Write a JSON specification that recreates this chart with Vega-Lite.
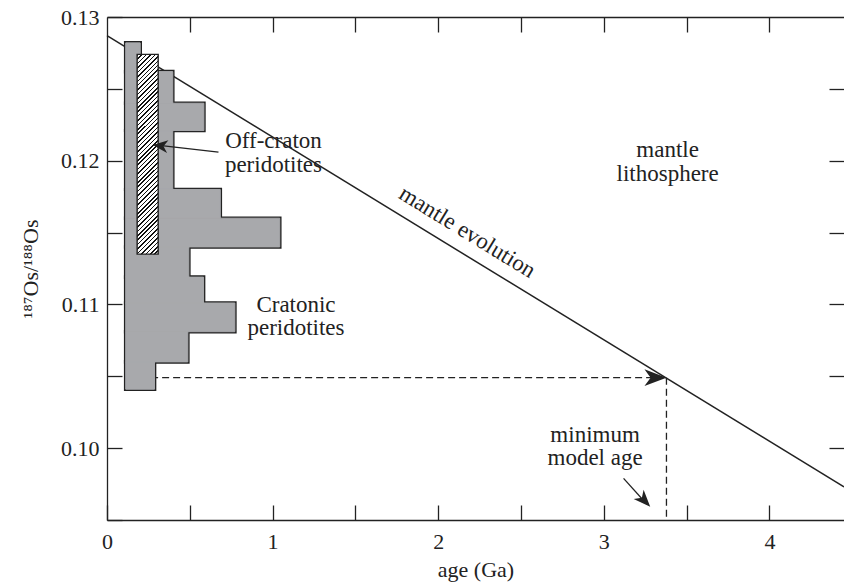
{
  "$schema": "https://vega.github.io/schema/vega-lite/v6.json",
  "width": 737,
  "height": 503,
  "autosize": {"type": "none"},
  "padding": {"left": 107, "top": 17, "right": 0, "bottom": 64},
  "background": "white",
  "config": {
    "view": {"stroke": null},
    "axis": {
      "grid": false,
      "domainColor": "#222",
      "domainWidth": 1.3,
      "tickColor": "#222",
      "tickWidth": 1.3,
      "tickSize": -15,
      "labelFont": "Liberation Serif",
      "labelFontSize": 22,
      "labelColor": "#222",
      "labelOverlap": false,
      "labelFlush": false,
      "titleFont": "Liberation Serif",
      "titleFontSize": 22,
      "titleFontWeight": "normal",
      "titleColor": "#222"
    }
  },
  "resolve": {"axis": {"x": "independent", "y": "independent"}},
  "layer": [
    {
      "data": {"values": [{"age": 0, "ratio": 0.1287}, {"age": 4.45, "ratio": 0.0973}]},
      "mark": {"type": "line", "color": "#222", "strokeWidth": 1.5},
      "encoding": {
        "x": {"field": "age", "type": "quantitative", "scale": {"domain": [0, 4.45], "nice": false, "zero": false},
          "axis": {"orient": "bottom", "title": "age (Ga)", "values": [0, 0.5, 1, 1.5, 2, 2.5, 3, 3.5, 4],
            "labelExpr": "datum.value % 1 == 0 ? format(datum.value, 'd') : ''", "labelPadding": 26, "titlePadding": 7}},
        "y": {"field": "ratio", "type": "quantitative", "scale": {"domain": [0.095, 0.13], "nice": false, "zero": false},
          "axis": {"orient": "left", "title": "¹⁸⁷Os/¹⁸⁸Os", "values": [0.095, 0.1, 0.105, 0.11, 0.115, 0.12, 0.125, 0.13],
            "labelExpr": "abs(datum.value * 100 - round(datum.value * 100)) < 0.01 ? format(datum.value, '.2f') : ''",
            "labelPadding": 23, "titlePadding": 18}}
      }
    },
    {
      "data": {"values": [
        {"a": 0.2, "r": 0.1049, "a2": 3.355, "r2": 0.1049},
        {"a": 3.378, "r": 0.1049, "a2": 3.378, "r2": 0.095}
      ]},
      "mark": {"type": "rule", "color": "#222", "strokeWidth": 1.3, "strokeDash": [7, 4]},
      "encoding": {
        "x": {"field": "a", "type": "quantitative", "scale": {"domain": [0, 4.45]}, "axis": null},
        "x2": {"field": "a2"},
        "y": {"field": "r", "type": "quantitative", "scale": {"domain": [0.095, 0.13]}, "axis": null},
        "y2": {"field": "r2"}
      }
    },
    {
      "data": {"name": "hist", "values": [
        {"a0": 0.113, "a1": 0.2005, "r0": 0.1262, "r1": 0.1282},
        {"a0": 0.113, "a1": 0.397, "r0": 0.1240, "r1": 0.1262},
        {"a0": 0.113, "a1": 0.585, "r0": 0.1221, "r1": 0.1240},
        {"a0": 0.113, "a1": 0.397, "r0": 0.1180, "r1": 0.1221},
        {"a0": 0.113, "a1": 0.684, "r0": 0.1160, "r1": 0.1180},
        {"a0": 0.113, "a1": 1.043, "r0": 0.1140, "r1": 0.1160},
        {"a0": 0.113, "a1": 0.494, "r0": 0.1119, "r1": 0.1140},
        {"a0": 0.113, "a1": 0.583, "r0": 0.1101, "r1": 0.1119},
        {"a0": 0.113, "a1": 0.772, "r0": 0.1081, "r1": 0.1101},
        {"a0": 0.113, "a1": 0.488, "r0": 0.1060, "r1": 0.1081},
        {"a0": 0.113, "a1": 0.287, "r0": 0.1041, "r1": 0.1060}
      ]},
      "layer": [
        {
          "mark": {"type": "rect", "fill": "#a8a9ac", "stroke": "#222", "strokeWidth": 3.6},
          "encoding": {
            "x": {"field": "a0", "type": "quantitative", "scale": {"domain": [0, 4.45]}, "axis": null},
            "x2": {"field": "a1"},
            "y": {"field": "r0", "type": "quantitative", "scale": {"domain": [0.095, 0.13]}, "axis": null},
            "y2": {"field": "r1"}
          }
        },
        {
          "mark": {"type": "rect", "fill": "#a8a9ac", "stroke": "#a8a9ac", "strokeWidth": 1},
          "encoding": {
            "x": {"field": "a0", "type": "quantitative", "scale": {"domain": [0, 4.45]}, "axis": null},
            "x2": {"field": "a1"},
            "y": {"field": "r0", "type": "quantitative", "scale": {"domain": [0.095, 0.13]}, "axis": null},
            "y2": {"field": "r1"}
          }
        }
      ]
    },
    {
      "data": {"values": [{"a0": 0.182, "a1": 0.309, "r0": 0.1135, "r1": 0.1274}]},
      "mark": {"type": "rect", "stroke": "#222", "strokeWidth": 1.4,
        "fill": {"gradient": "linear", "x1": 0, "y1": 0, "x2": 0.1149, "y2": 1.0931, "stops": [
          {"offset": 0, "color": "#111"}, {"offset": 0.007, "color": "#111"}, {"offset": 0.007, "color": "#fff"}, {"offset": 0.02, "color": "#fff"},
          {"offset": 0.02, "color": "#111"}, {"offset": 0.027, "color": "#111"}, {"offset": 0.027, "color": "#fff"}, {"offset": 0.04, "color": "#fff"},
          {"offset": 0.04, "color": "#111"}, {"offset": 0.047, "color": "#111"}, {"offset": 0.047, "color": "#fff"}, {"offset": 0.06, "color": "#fff"},
          {"offset": 0.06, "color": "#111"}, {"offset": 0.067, "color": "#111"}, {"offset": 0.067, "color": "#fff"}, {"offset": 0.08, "color": "#fff"},
          {"offset": 0.08, "color": "#111"}, {"offset": 0.087, "color": "#111"}, {"offset": 0.087, "color": "#fff"}, {"offset": 0.10, "color": "#fff"},
          {"offset": 0.10, "color": "#111"}, {"offset": 0.107, "color": "#111"}, {"offset": 0.107, "color": "#fff"}, {"offset": 0.12, "color": "#fff"},
          {"offset": 0.12, "color": "#111"}, {"offset": 0.127, "color": "#111"}, {"offset": 0.127, "color": "#fff"}, {"offset": 0.14, "color": "#fff"},
          {"offset": 0.14, "color": "#111"}, {"offset": 0.147, "color": "#111"}, {"offset": 0.147, "color": "#fff"}, {"offset": 0.16, "color": "#fff"},
          {"offset": 0.16, "color": "#111"}, {"offset": 0.167, "color": "#111"}, {"offset": 0.167, "color": "#fff"}, {"offset": 0.18, "color": "#fff"},
          {"offset": 0.18, "color": "#111"}, {"offset": 0.187, "color": "#111"}, {"offset": 0.187, "color": "#fff"}, {"offset": 0.20, "color": "#fff"},
          {"offset": 0.20, "color": "#111"}, {"offset": 0.207, "color": "#111"}, {"offset": 0.207, "color": "#fff"}, {"offset": 0.22, "color": "#fff"},
          {"offset": 0.22, "color": "#111"}, {"offset": 0.227, "color": "#111"}, {"offset": 0.227, "color": "#fff"}, {"offset": 0.24, "color": "#fff"},
          {"offset": 0.24, "color": "#111"}, {"offset": 0.247, "color": "#111"}, {"offset": 0.247, "color": "#fff"}, {"offset": 0.26, "color": "#fff"},
          {"offset": 0.26, "color": "#111"}, {"offset": 0.267, "color": "#111"}, {"offset": 0.267, "color": "#fff"}, {"offset": 0.28, "color": "#fff"},
          {"offset": 0.28, "color": "#111"}, {"offset": 0.287, "color": "#111"}, {"offset": 0.287, "color": "#fff"}, {"offset": 0.30, "color": "#fff"},
          {"offset": 0.30, "color": "#111"}, {"offset": 0.307, "color": "#111"}, {"offset": 0.307, "color": "#fff"}, {"offset": 0.32, "color": "#fff"},
          {"offset": 0.32, "color": "#111"}, {"offset": 0.327, "color": "#111"}, {"offset": 0.327, "color": "#fff"}, {"offset": 0.34, "color": "#fff"},
          {"offset": 0.34, "color": "#111"}, {"offset": 0.347, "color": "#111"}, {"offset": 0.347, "color": "#fff"}, {"offset": 0.36, "color": "#fff"},
          {"offset": 0.36, "color": "#111"}, {"offset": 0.367, "color": "#111"}, {"offset": 0.367, "color": "#fff"}, {"offset": 0.38, "color": "#fff"},
          {"offset": 0.38, "color": "#111"}, {"offset": 0.387, "color": "#111"}, {"offset": 0.387, "color": "#fff"}, {"offset": 0.40, "color": "#fff"},
          {"offset": 0.40, "color": "#111"}, {"offset": 0.407, "color": "#111"}, {"offset": 0.407, "color": "#fff"}, {"offset": 0.42, "color": "#fff"},
          {"offset": 0.42, "color": "#111"}, {"offset": 0.427, "color": "#111"}, {"offset": 0.427, "color": "#fff"}, {"offset": 0.44, "color": "#fff"},
          {"offset": 0.44, "color": "#111"}, {"offset": 0.447, "color": "#111"}, {"offset": 0.447, "color": "#fff"}, {"offset": 0.46, "color": "#fff"},
          {"offset": 0.46, "color": "#111"}, {"offset": 0.467, "color": "#111"}, {"offset": 0.467, "color": "#fff"}, {"offset": 0.48, "color": "#fff"},
          {"offset": 0.48, "color": "#111"}, {"offset": 0.487, "color": "#111"}, {"offset": 0.487, "color": "#fff"}, {"offset": 0.50, "color": "#fff"},
          {"offset": 0.50, "color": "#111"}, {"offset": 0.507, "color": "#111"}, {"offset": 0.507, "color": "#fff"}, {"offset": 0.52, "color": "#fff"},
          {"offset": 0.52, "color": "#111"}, {"offset": 0.527, "color": "#111"}, {"offset": 0.527, "color": "#fff"}, {"offset": 0.54, "color": "#fff"},
          {"offset": 0.54, "color": "#111"}, {"offset": 0.547, "color": "#111"}, {"offset": 0.547, "color": "#fff"}, {"offset": 0.56, "color": "#fff"},
          {"offset": 0.56, "color": "#111"}, {"offset": 0.567, "color": "#111"}, {"offset": 0.567, "color": "#fff"}, {"offset": 0.58, "color": "#fff"},
          {"offset": 0.58, "color": "#111"}, {"offset": 0.587, "color": "#111"}, {"offset": 0.587, "color": "#fff"}, {"offset": 0.60, "color": "#fff"},
          {"offset": 0.60, "color": "#111"}, {"offset": 0.607, "color": "#111"}, {"offset": 0.607, "color": "#fff"}, {"offset": 0.62, "color": "#fff"},
          {"offset": 0.62, "color": "#111"}, {"offset": 0.627, "color": "#111"}, {"offset": 0.627, "color": "#fff"}, {"offset": 0.64, "color": "#fff"},
          {"offset": 0.64, "color": "#111"}, {"offset": 0.647, "color": "#111"}, {"offset": 0.647, "color": "#fff"}, {"offset": 0.66, "color": "#fff"},
          {"offset": 0.66, "color": "#111"}, {"offset": 0.667, "color": "#111"}, {"offset": 0.667, "color": "#fff"}, {"offset": 0.68, "color": "#fff"},
          {"offset": 0.68, "color": "#111"}, {"offset": 0.687, "color": "#111"}, {"offset": 0.687, "color": "#fff"}, {"offset": 0.70, "color": "#fff"},
          {"offset": 0.70, "color": "#111"}, {"offset": 0.707, "color": "#111"}, {"offset": 0.707, "color": "#fff"}, {"offset": 0.72, "color": "#fff"},
          {"offset": 0.72, "color": "#111"}, {"offset": 0.727, "color": "#111"}, {"offset": 0.727, "color": "#fff"}, {"offset": 0.74, "color": "#fff"},
          {"offset": 0.74, "color": "#111"}, {"offset": 0.747, "color": "#111"}, {"offset": 0.747, "color": "#fff"}, {"offset": 0.76, "color": "#fff"},
          {"offset": 0.76, "color": "#111"}, {"offset": 0.767, "color": "#111"}, {"offset": 0.767, "color": "#fff"}, {"offset": 0.78, "color": "#fff"},
          {"offset": 0.78, "color": "#111"}, {"offset": 0.787, "color": "#111"}, {"offset": 0.787, "color": "#fff"}, {"offset": 0.80, "color": "#fff"},
          {"offset": 0.80, "color": "#111"}, {"offset": 0.807, "color": "#111"}, {"offset": 0.807, "color": "#fff"}, {"offset": 0.82, "color": "#fff"},
          {"offset": 0.82, "color": "#111"}, {"offset": 0.827, "color": "#111"}, {"offset": 0.827, "color": "#fff"}, {"offset": 0.84, "color": "#fff"},
          {"offset": 0.84, "color": "#111"}, {"offset": 0.847, "color": "#111"}, {"offset": 0.847, "color": "#fff"}, {"offset": 0.86, "color": "#fff"},
          {"offset": 0.86, "color": "#111"}, {"offset": 0.867, "color": "#111"}, {"offset": 0.867, "color": "#fff"}, {"offset": 0.88, "color": "#fff"},
          {"offset": 0.88, "color": "#111"}, {"offset": 0.887, "color": "#111"}, {"offset": 0.887, "color": "#fff"}, {"offset": 0.90, "color": "#fff"},
          {"offset": 0.90, "color": "#111"}, {"offset": 0.907, "color": "#111"}, {"offset": 0.907, "color": "#fff"}, {"offset": 0.92, "color": "#fff"},
          {"offset": 0.92, "color": "#111"}, {"offset": 0.927, "color": "#111"}, {"offset": 0.927, "color": "#fff"}, {"offset": 0.94, "color": "#fff"},
          {"offset": 0.94, "color": "#111"}, {"offset": 0.947, "color": "#111"}, {"offset": 0.947, "color": "#fff"}, {"offset": 0.96, "color": "#fff"},
          {"offset": 0.96, "color": "#111"}, {"offset": 0.967, "color": "#111"}, {"offset": 0.967, "color": "#fff"}, {"offset": 0.98, "color": "#fff"},
          {"offset": 0.98, "color": "#111"}, {"offset": 0.987, "color": "#111"}, {"offset": 0.987, "color": "#fff"}, {"offset": 1, "color": "#fff"}
        ]}},
      "encoding": {
        "x": {"field": "a0", "type": "quantitative", "scale": {"domain": [0, 4.45]}, "axis": null},
        "x2": {"field": "a1"},
        "y": {"field": "r0", "type": "quantitative", "scale": {"domain": [0.095, 0.13]}, "axis": null},
        "y2": {"field": "r1"}
      }
    },
    {
      "data": {"values": [
        {"a": 0.673, "r": 0.1206, "a2": 0.29, "r2": 0.1211},
        {"a": 3.119, "r": 0.0979, "a2": 3.26, "r2": 0.0961}
      ]},
      "mark": {"type": "rule", "color": "#222", "strokeWidth": 1.3},
      "encoding": {
        "x": {"field": "a", "type": "quantitative", "scale": {"domain": [0, 4.45]}, "axis": null},
        "x2": {"field": "a2"},
        "y": {"field": "r", "type": "quantitative", "scale": {"domain": [0.095, 0.13]}, "axis": null},
        "y2": {"field": "r2"}
      }
    },
    {
      "data": {"values": [{"a": 0.2766, "r": 0.12109}]},
      "mark": {"type": "point", "shape": "M0,0L-1,-0.43L-0.72,0L-1,0.43Z", "size": 900, "angle": 186, "filled": true, "opacity": 1, "color": "#222"},
      "encoding": {
        "x": {"field": "a", "type": "quantitative", "scale": {"domain": [0, 4.45]}, "axis": null},
        "y": {"field": "r", "type": "quantitative", "scale": {"domain": [0.095, 0.13]}, "axis": null}
      }
    },
    {
      "data": {"values": [{"a": 3.378, "r": 0.1049}]},
      "mark": {"type": "point", "shape": "M0,0L-1,-0.38L-0.72,0L-1,0.38Z", "size": 1936, "angle": 0, "filled": true, "opacity": 1, "color": "#222"},
      "encoding": {
        "x": {"field": "a", "type": "quantitative", "scale": {"domain": [0, 4.45]}, "axis": null},
        "y": {"field": "r", "type": "quantitative", "scale": {"domain": [0.095, 0.13]}, "axis": null}
      }
    },
    {
      "data": {"values": [{"a": 3.28, "r": 0.09592}]},
      "mark": {"type": "point", "shape": "M0,0L-1,-0.4L-0.72,0L-1,0.4Z", "size": 1156, "angle": 47, "filled": true, "opacity": 1, "color": "#222"},
      "encoding": {
        "x": {"field": "a", "type": "quantitative", "scale": {"domain": [0, 4.45]}, "axis": null},
        "y": {"field": "r", "type": "quantitative", "scale": {"domain": [0.095, 0.13]}, "axis": null}
      }
    },
    {
      "data": {"values": [
        {"a": 1.005, "r": 0.12086, "t": "Off-craton"},
        {"a": 1.005, "r": 0.11924, "t": "peridotites"},
        {"a": 1.141, "r": 0.10949, "t": "Cratonic"},
        {"a": 1.141, "r": 0.10787, "t": "peridotites"},
        {"a": 3.385, "r": 0.12024, "t": "mantle"},
        {"a": 3.385, "r": 0.11859, "t": "lithosphere"},
        {"a": 2.947, "r": 0.10045, "t": "minimum"},
        {"a": 2.947, "r": 0.09883, "t": "model age"}
      ]},
      "mark": {"type": "text", "font": "Liberation Serif", "fontSize": 23, "align": "center", "baseline": "alphabetic", "color": "#222"},
      "encoding": {
        "x": {"field": "a", "type": "quantitative", "scale": {"domain": [0, 4.45]},
          "axis": {"orient": "top", "title": null, "labels": false, "values": [0.5, 1, 1.5, 2, 2.5, 3, 3.5, 4]}},
        "y": {"field": "r", "type": "quantitative", "scale": {"domain": [0.095, 0.13]},
          "axis": {"orient": "right", "title": null, "labels": false, "domain": false, "values": [0.1, 0.105, 0.11, 0.115, 0.12, 0.125]}},
        "text": {"field": "t"}
      }
    },
    {
      "data": {"values": [{"a": 2.153, "r": 0.11462, "t": "mantle evolution"}]},
      "mark": {"type": "text", "font": "Liberation Serif", "fontSize": 23, "align": "center", "baseline": "alphabetic", "angle": 31.5, "color": "#222"},
      "encoding": {
        "x": {"field": "a", "type": "quantitative", "scale": {"domain": [0, 4.45]}, "axis": null},
        "y": {"field": "r", "type": "quantitative", "scale": {"domain": [0.095, 0.13]}, "axis": null},
        "text": {"field": "t"}
      }
    }
  ]
}
